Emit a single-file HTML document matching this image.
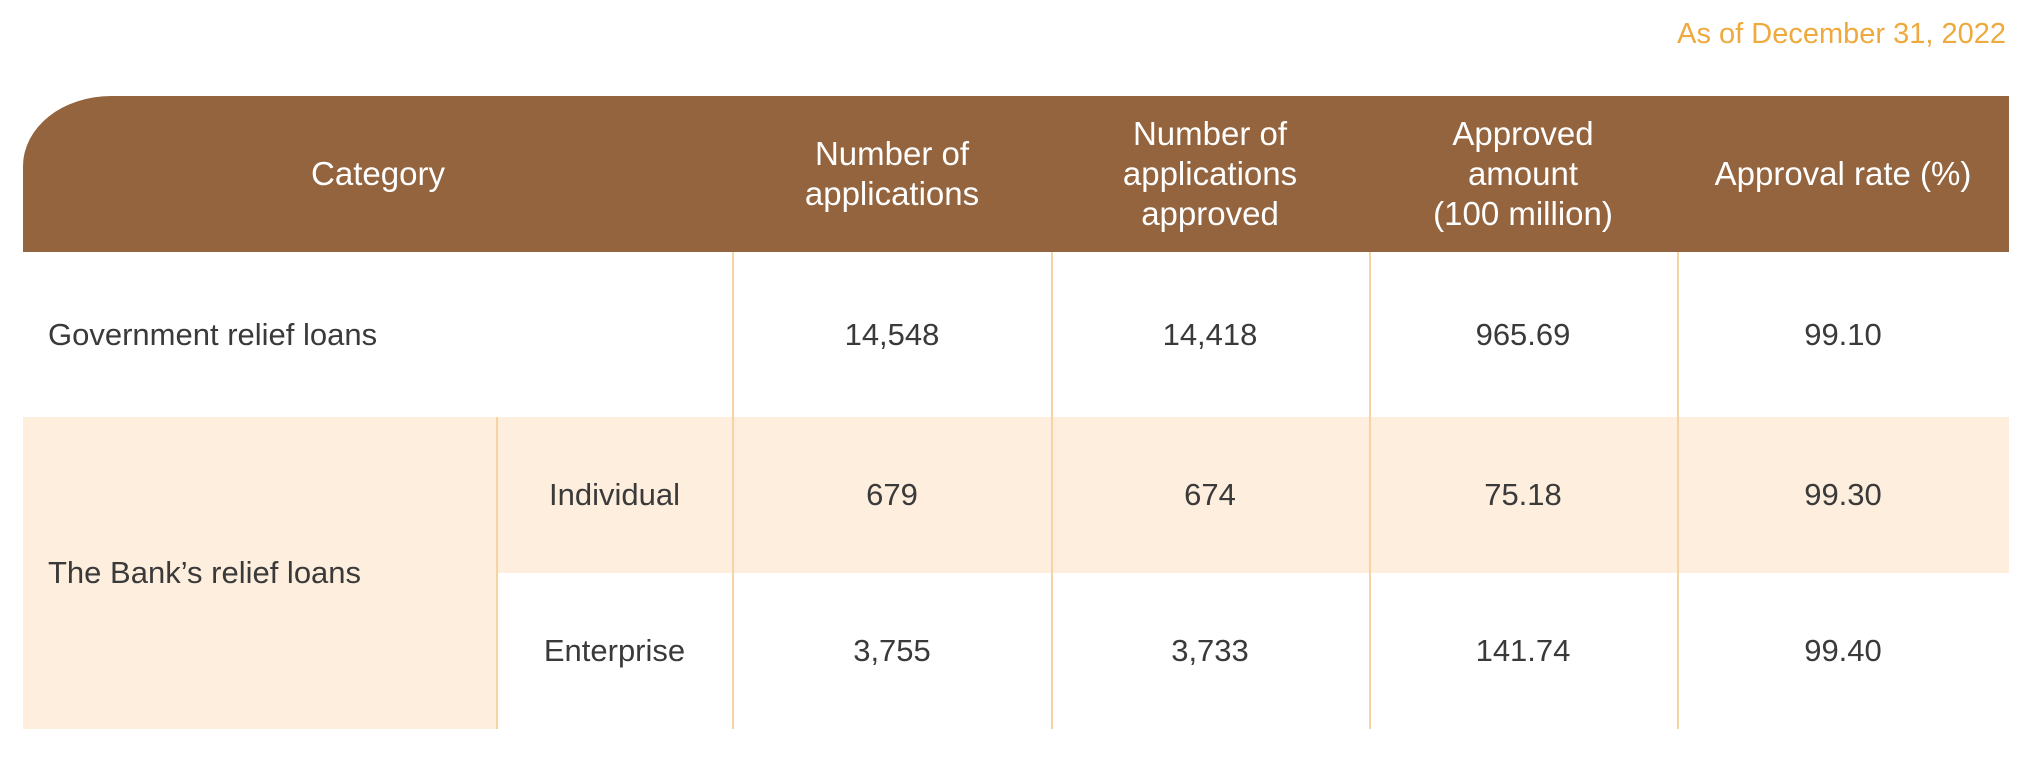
<!DOCTYPE html>
<html><head><meta charset="utf-8"><style>
body{margin:0;width:2020px;height:777px;background:#fff;position:relative;overflow:hidden;font-family:"Liberation Sans",sans-serif;}
.a{position:absolute;display:flex;align-items:center;justify-content:center;text-align:center;}
.h{color:#fff;font-size:33px;line-height:40px;}
.c{color:#3a3a3a;font-size:31px;}
.v{position:absolute;width:2px;background:#f6d3a3;top:252px;height:477px;}
</style></head><body>
<div style="position:absolute;right:14px;top:18px;font-size:29px;color:#eeaa3c;">As of December 31, 2022</div>
<div style="position:absolute;left:23px;top:96px;width:1986px;height:156px;background:#93643e;border-top-left-radius:88px 70px;"></div>
<div style="position:absolute;left:23px;top:417px;width:473px;height:312px;background:#feeedd;"></div>
<div style="position:absolute;left:496px;top:417px;width:1513px;height:156px;background:#feeedd;"></div>
<div class="v" style="left:496px;top:417px;height:312px"></div>
<div class="v" style="left:732px"></div>
<div class="v" style="left:1051px"></div>
<div class="v" style="left:1369px"></div>
<div class="v" style="left:1677px"></div>

<div class="a h" style="left:23px;top:96px;width:710px;height:156px">Category</div>
<div class="a h" style="left:733px;top:96px;width:318px;height:156px">Number of<br>applications</div>
<div class="a h" style="left:1051px;top:96px;width:318px;height:156px">Number of<br>applications<br>approved</div>
<div class="a h" style="left:1369px;top:96px;width:308px;height:156px">Approved<br>amount<br>(100 million)</div>
<div class="a h" style="left:1677px;top:96px;width:332px;height:156px">Approval rate (%)</div>

<div class="a c" style="left:48px;top:252px;height:165px;justify-content:flex-start">Government relief loans</div>
<div class="a c" style="left:48px;top:417px;height:312px;justify-content:flex-start">The Bank’s relief loans</div>
<div class="a c" style="left:496px;top:417px;width:237px;height:156px">Individual</div>
<div class="a c" style="left:496px;top:573px;width:237px;height:156px">Enterprise</div>

<div class="a c" style="left:733px;top:252px;width:318px;height:165px">14,548</div>
<div class="a c" style="left:1051px;top:252px;width:318px;height:165px">14,418</div>
<div class="a c" style="left:1369px;top:252px;width:308px;height:165px">965.69</div>
<div class="a c" style="left:1677px;top:252px;width:332px;height:165px">99.10</div>

<div class="a c" style="left:733px;top:417px;width:318px;height:156px">679</div>
<div class="a c" style="left:1051px;top:417px;width:318px;height:156px">674</div>
<div class="a c" style="left:1369px;top:417px;width:308px;height:156px">75.18</div>
<div class="a c" style="left:1677px;top:417px;width:332px;height:156px">99.30</div>

<div class="a c" style="left:733px;top:573px;width:318px;height:156px">3,755</div>
<div class="a c" style="left:1051px;top:573px;width:318px;height:156px">3,733</div>
<div class="a c" style="left:1369px;top:573px;width:308px;height:156px">141.74</div>
<div class="a c" style="left:1677px;top:573px;width:332px;height:156px">99.40</div>
</body></html>
